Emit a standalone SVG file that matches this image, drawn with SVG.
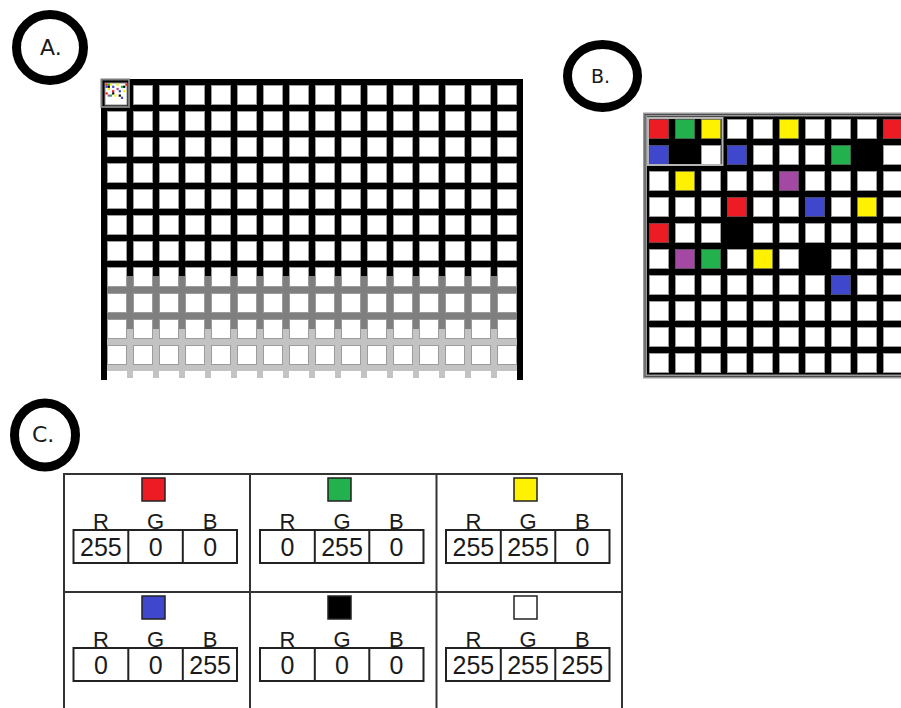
<svg xmlns="http://www.w3.org/2000/svg" width="901" height="708" viewBox="0 0 901 708">
<style>
.ring{fill:none;stroke:#000;stroke-width:9}
.lbl{font-family:"DejaVu Sans",sans-serif;fill:#1a1a1a}
.t{font-family:"Liberation Sans",Arial,sans-serif;fill:#1a1a1a;text-anchor:middle}
.h{font-size:22px}
.n{font-size:25px}
.box{fill:none;stroke:#222;stroke-width:2}
.sw{stroke:#222;stroke-width:1.5}
.tab{fill:none;stroke:#333;stroke-width:2}
.cR{fill:#ed1c24}.cG{fill:#22b14c}.cY{fill:#fff200}.cB{fill:#3f48cc}.cP{fill:#a349a4}.cK{fill:#000}
.cc{stroke:#000;stroke-opacity:0.35;stroke-width:1}
</style>
<defs>
<pattern id="cellA" x="104" y="82" width="26" height="26" patternUnits="userSpaceOnUse">
<rect x="3.5" y="3.5" width="19" height="19" fill="#fff" stroke="#9c9c9c" stroke-width="1"/>
</pattern>
<pattern id="cellB" x="646" y="116" width="26" height="26" patternUnits="userSpaceOnUse">
<rect x="3.5" y="3.5" width="19" height="19" fill="#fff" stroke="#9c9c9c" stroke-width="1"/>
</pattern>
</defs>
<rect width="901" height="708" fill="#fff"/>

<!-- labels -->
<g id="labelA"><ellipse class="ring" cx="50" cy="47.5" rx="33.5" ry="33"/><text class="lbl" x="40" y="55" font-size="22">A.</text></g>
<g id="labelB"><ellipse class="ring" cx="602.5" cy="76" rx="35" ry="31.5"/><text class="lbl" x="591" y="83" font-size="19">B.</text></g>
<g id="labelC"><ellipse class="ring" cx="45" cy="435" rx="30.5" ry="32"/><text class="lbl" x="32" y="442" font-size="22">C.</text></g>

<!-- Grid A -->
<g id="gridA">
<path d="M101 82H523M101 108H523M101 134H523M101 160H523M101 186H523M101 212H523M101 238H523M101 264H523" stroke="#000" stroke-width="6"/>
<path d="M104 290H520M104 316H520" stroke="#7f7f7f" stroke-width="6"/>
<path d="M104 342H520M104 368H520" stroke="#c3c3c3" stroke-width="6"/>
<path d="M130 79V276M156 79V276M182 79V276M208 79V276M234 79V276M260 79V276M286 79V276M312 79V276M338 79V276M364 79V276M390 79V276M416 79V276M442 79V276M468 79V276M494 79V276" stroke="#000" stroke-width="6"/>
<path d="M130 276V329M156 276V329M182 276V329M208 276V329M234 276V329M260 276V329M286 276V329M312 276V329M338 276V329M364 276V329M390 276V329M416 276V329M442 276V329M468 276V329M494 276V329" stroke="#7f7f7f" stroke-width="6"/>
<path d="M130 329V378M156 329V378M182 329V378M208 329V378M234 329V378M260 329V378M286 329V378M312 329V378M338 329V378M364 329V378M390 329V378M416 329V378M442 329V378M468 329V378M494 329V378" stroke="#c3c3c3" stroke-width="6"/>
<path d="M104 79V380M520 79V380" stroke="#000" stroke-width="6"/>
<rect x="104" y="82" width="416" height="286" fill="url(#cellA)"/>
<g id="thumb">
<rect x="101.5" y="79.5" width="27.5" height="27.5" fill="none" stroke="#7a7a7a" stroke-width="2"/>
<rect x="105" y="83" width="22" height="22" fill="#fff" stroke="#8a8a8a" stroke-width="1"/>
<rect class="cR" x="105.5" y="83.5" width="2.2" height="2.2"/>
<rect class="cG" x="107.7" y="83.5" width="2.2" height="2.2"/>
<rect class="cY" x="109.9" y="83.5" width="2.2" height="2.2"/>
<rect class="cY" x="116.5" y="83.5" width="2.2" height="2.2"/>
<rect class="cR" x="125.3" y="83.5" width="2.2" height="2.2"/>
<rect class="cB" x="105.5" y="85.7" width="2.2" height="2.2"/>
<rect class="cK" x="107.7" y="85.7" width="2.2" height="2.2"/>
<rect class="cB" x="112.1" y="85.7" width="2.2" height="2.2"/>
<rect class="cG" x="120.9" y="85.7" width="2.2" height="2.2"/>
<rect class="cK" x="123.1" y="85.7" width="2.2" height="2.2"/>
<rect class="cY" x="107.7" y="87.9" width="2.2" height="2.2"/>
<rect class="cP" x="116.5" y="87.9" width="2.2" height="2.2"/>
<rect class="cR" x="112.1" y="90.1" width="2.2" height="2.2"/>
<rect class="cB" x="118.7" y="90.1" width="2.2" height="2.2"/>
<rect class="cY" x="123.1" y="90.1" width="2.2" height="2.2"/>
<rect class="cR" x="105.5" y="92.3" width="2.2" height="2.2"/>
<rect class="cK" x="112.1" y="92.3" width="2.2" height="2.2"/>
<rect class="cP" x="107.7" y="94.5" width="2.2" height="2.2"/>
<rect class="cG" x="109.9" y="94.5" width="2.2" height="2.2"/>
<rect class="cY" x="114.3" y="94.5" width="2.2" height="2.2"/>
<rect class="cK" x="118.7" y="94.5" width="2.2" height="2.2"/>
<rect class="cB" x="120.9" y="96.7" width="2.2" height="2.2"/>
</g>
</g>

<!-- Grid B -->
<g id="gridB">
<rect x="645" y="114.5" width="270" height="262" fill="#000" stroke="#9a9a9a" stroke-width="4"/>
<rect x="645" y="114.5" width="270" height="262" fill="none" stroke="#4a4a4a" stroke-width="1"/>
<rect x="646" y="116" width="260" height="260" fill="url(#cellB)"/>
<rect class="cR cc" x="649.5" y="119.5" width="19" height="19"/>
<rect class="cG cc" x="675.5" y="119.5" width="19" height="19"/>
<rect class="cY cc" x="701.5" y="119.5" width="19" height="19"/>
<rect class="cY cc" x="779.5" y="119.5" width="19" height="19"/>
<rect class="cR cc" x="883.5" y="119.5" width="19" height="19"/>
<rect class="cB cc" x="649.5" y="145.5" width="19" height="19"/>
<rect class="cK" x="672" y="142" width="26" height="26"/>
<rect class="cB cc" x="727.5" y="145.5" width="19" height="19"/>
<rect class="cG cc" x="831.5" y="145.5" width="19" height="19"/>
<rect class="cK" x="854" y="142" width="26" height="26"/>
<rect class="cY cc" x="675.5" y="171.5" width="19" height="19"/>
<rect class="cP cc" x="779.5" y="171.5" width="19" height="19"/>
<rect class="cR cc" x="727.5" y="197.5" width="19" height="19"/>
<rect class="cB cc" x="805.5" y="197.5" width="19" height="19"/>
<rect class="cY cc" x="857.5" y="197.5" width="19" height="19"/>
<rect class="cR cc" x="649.5" y="223.5" width="19" height="19"/>
<rect class="cK" x="724" y="220" width="26" height="26"/>
<rect class="cP cc" x="675.5" y="249.5" width="19" height="19"/>
<rect class="cG cc" x="701.5" y="249.5" width="19" height="19"/>
<rect class="cY cc" x="753.5" y="249.5" width="19" height="19"/>
<rect class="cK" x="802" y="246" width="26" height="26"/>
<rect class="cB cc" x="831.5" y="275.5" width="19" height="19"/>
<rect x="648" y="118" width="74.5" height="47" fill="none" stroke="#b5b5b5" stroke-width="2"/>
</g>

<!-- Table C -->
<g id="tableC">
<path class="tab" d="M64 710V474H622V710M250 474V710M436.5 474V710M64 592H622"/>
</g>

<g id="red">
<rect class="sw cR" x="142" y="478" width="23" height="23"/>
<text class="t h" x="100.9" y="528.5">R</text><text class="t h" x="155.6" y="528.5">G</text><text class="t h" x="210.1" y="528.5">B</text>
<rect class="box" x="73.5" y="530" width="163.5" height="33"/><path class="box" d="M128.3 530V563M182.8 530V563"/>
<text class="t n" x="100.9" y="556">255</text><text class="t n" x="155.6" y="556">0</text><text class="t n" x="210.1" y="556">0</text>
</g>
<g id="green">
<rect class="sw cG" x="328" y="478" width="23" height="23"/>
<text class="t h" x="287.4" y="528.5">R</text><text class="t h" x="342" y="528.5">G</text><text class="t h" x="396.4" y="528.5">B</text>
<rect class="box" x="260" y="530" width="163.5" height="33"/><path class="box" d="M314.8 530V563M369.3 530V563"/>
<text class="t n" x="287.4" y="556">0</text><text class="t n" x="342" y="556">255</text><text class="t n" x="396.4" y="556">0</text>
</g>
<g id="yellow">
<rect class="sw cY" x="514" y="478" width="23" height="23"/>
<text class="t h" x="473.4" y="528.5">R</text><text class="t h" x="528" y="528.5">G</text><text class="t h" x="582.4" y="528.5">B</text>
<rect class="box" x="446" y="530" width="163.5" height="33"/><path class="box" d="M500.8 530V563M555.3 530V563"/>
<text class="t n" x="473.4" y="556">255</text><text class="t n" x="528" y="556">255</text><text class="t n" x="582.4" y="556">0</text>
</g>
<g id="blue">
<rect class="sw cB" x="142" y="596" width="23" height="23"/>
<text class="t h" x="100.9" y="646.5">R</text><text class="t h" x="155.6" y="646.5">G</text><text class="t h" x="210.1" y="646.5">B</text>
<rect class="box" x="73.5" y="648" width="163.5" height="33"/><path class="box" d="M128.3 648V681M182.8 648V681"/>
<text class="t n" x="100.9" y="674">0</text><text class="t n" x="155.6" y="674">0</text><text class="t n" x="210.1" y="674">255</text>
</g>
<g id="black">
<rect class="sw cK" x="328" y="596" width="23" height="23"/>
<text class="t h" x="287.4" y="646.5">R</text><text class="t h" x="342" y="646.5">G</text><text class="t h" x="396.4" y="646.5">B</text>
<rect class="box" x="260" y="648" width="163.5" height="33"/><path class="box" d="M314.8 648V681M369.3 648V681"/>
<text class="t n" x="287.4" y="674">0</text><text class="t n" x="342" y="674">0</text><text class="t n" x="396.4" y="674">0</text>
</g>
<g id="white">
<rect class="sw" fill="#fff" x="514" y="596" width="23" height="23"/>
<text class="t h" x="473.4" y="646.5">R</text><text class="t h" x="528" y="646.5">G</text><text class="t h" x="582.4" y="646.5">B</text>
<rect class="box" x="446" y="648" width="163.5" height="33"/><path class="box" d="M500.8 648V681M555.3 648V681"/>
<text class="t n" x="473.4" y="674">255</text><text class="t n" x="528" y="674">255</text><text class="t n" x="582.4" y="674">255</text>
</g>
</svg>
